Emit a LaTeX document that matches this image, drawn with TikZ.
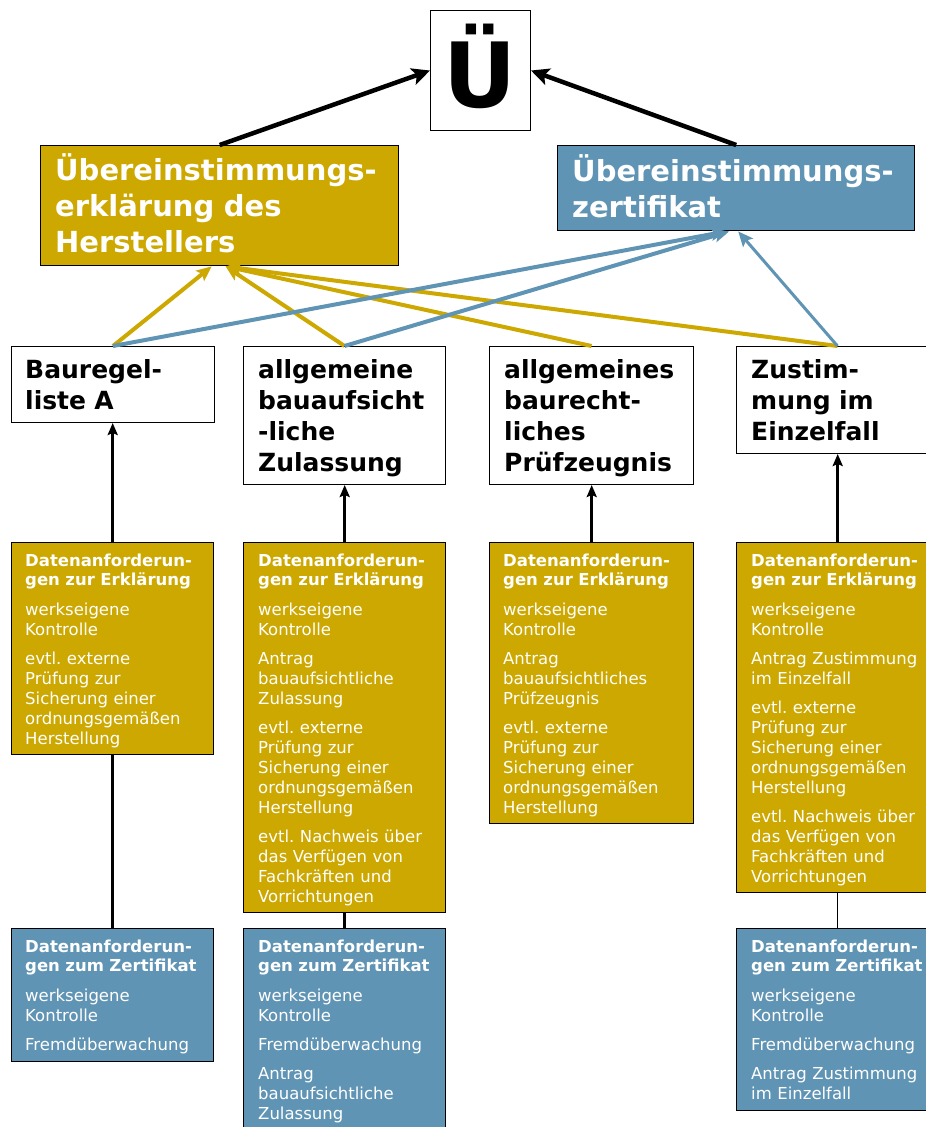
\documentclass[tikz,border=0pt]{standalone}
\usepackage{fontspec}
\setmainfont{DejaVu Sans}
\usetikzlibrary{arrows.meta}
\definecolor{gold}{RGB}{204,168,0}
\definecolor{steel}{RGB}{96,148,180}
\newcommand{\itemgap}{\\[9pt]}
\newcommand{\titlegap}{\\[10pt]}
\frenchspacing
\begin{document}
\begin{tikzpicture}[x=1pt,y=-1pt,
  frame/.style={draw=black, line width=1pt, inner sep=0pt, anchor=north west},
  plainbox/.style={frame, fill=white},
  goldbox/.style={frame, fill=gold, line width=1.4pt},
  bluebox/.style={frame, fill=steel, line width=1.4pt},
  headtext/.style={anchor=base west, inner sep=0pt, align=left, text width=340pt,
    text=white, font=\bfseries\fontsize{29}{36}\selectfont},
  labeltext/.style={anchor=base west, inner sep=0pt, align=left, text width=190pt,
    text=black, font=\bfseries\fontsize{25}{31}\selectfont},
  datatext/.style={anchor=base west, inner sep=0pt, align=left, text width=200pt,
    text=white, font=\fontsize{16.5}{20}\selectfont},
  bigarrow/.style={draw=black, line width=4.5pt, -{Stealth[length=18pt,width=17pt,inset=4pt]}},
  goldarrow/.style={draw=gold, line width=4pt, -{Stealth[length=15pt,width=13pt,inset=3pt]}},
  bluearrow/.style={draw=steel, line width=4pt, -{Stealth[length=15pt,width=13pt,inset=3pt]}},
  uparrow/.style={draw=black, line width=3pt, -{Stealth[length=12pt,width=10pt,inset=2pt]}},
  link/.style={draw=black, line width=#1}
]
\useasboundingbox (0,0) rectangle (926,1127);
\fill[white] (0,0) rectangle (926,1127);

% top symbol
\node[plainbox, minimum width=100pt, minimum height=120pt] (ue) at (430,10) {};
\node[anchor=base, inner sep=0pt, font=\bfseries\fontsize{90}{90}\selectfont] (uesym) at (480,107) {Ü};

% the two kinds of conformity proof
\node[goldbox, minimum width=358pt, minimum height=120pt] (decl) at (40,145) {};
\node[headtext] (declt) at (55,180) {Übereinstimmungs-\\erklärung des\\Herstellers};
\node[bluebox, minimum width=357pt, minimum height=85pt] (cert) at (557,145) {};
\node[headtext] (certt) at (572,181) {Übereinstimmungs-\\zertifikat};

\draw[bigarrow] (decl.north) -- (ue.west);
\draw[bigarrow] (cert.north) -- (ue.east);

% technical rules
\node[plainbox, minimum width=203pt, minimum height=76pt] (w1) at (11,346) {};
\node[labeltext] (w1t) at (25,378) {Bauregel-\\liste A};
\node[plainbox, minimum width=202pt, minimum height=138pt] (w2) at (243,346) {};
\node[labeltext] (w2t) at (258,378) {allgemeine\\bauaufsicht\\-liche\\Zulassung};
\node[plainbox, minimum width=204pt, minimum height=138pt] (w3) at (489,346) {};
\node[labeltext] (w3t) at (504,378) {allgemeines\\baurecht-\\liches\\Prüfzeugnis};
\node[plainbox, minimum width=202pt, minimum height=107pt] (w4) at (736,346) {};
\node[labeltext] (w4t) at (751,378) {Zustim-\\mung im\\Einzelfall};

% links to the declaration
\draw[goldarrow] (w1.north) -- ([xshift=-8pt]decl.south);
\draw[goldarrow] (w2.north) -- ([xshift=6pt]decl.south);
\draw[goldarrow] (w3.north) -- ([xshift=6pt]decl.south);
\draw[goldarrow] (w4.north) -- ([xshift=6pt]decl.south);

% links to the certificate
\draw[bluearrow] (w1.north) -- ([xshift=-10pt]cert.south);
\draw[bluearrow] (w2.north) -- ([xshift=-7pt]cert.south);
\draw[bluearrow, line width=3pt] (w4.north) -- ([xshift=2pt]cert.south);

% data requirements for the declaration
\node[goldbox, minimum width=202pt, minimum height=212pt] (g1) at (11,542) {};
\node[datatext] (g1t) at (25,566) {{\bfseries Datenanforderun-}\\[-1pt]{\bfseries gen zur Erklärung}\titlegap
werkseigene\\Kontrolle\itemgap
evtl. externe\\Prüfung zur\\Sicherung einer\\ordnungsgemäßen\\Herstellung};

\node[goldbox, minimum width=202pt, minimum height=370pt] (g2) at (243,542) {};
\node[datatext] (g2t) at (258,566) {{\bfseries Datenanforderun-}\\[-1pt]{\bfseries gen zur Erklärung}\titlegap
werkseigene\\Kontrolle\itemgap
Antrag\\bauaufsichtliche\\Zulassung\itemgap
evtl. externe\\Prüfung zur\\Sicherung einer\\ordnungsgemäßen\\Herstellung\itemgap
evtl. Nachweis über\\das Verfügen von\\Fachkräften und\\Vorrichtungen};

\node[goldbox, minimum width=204pt, minimum height=281pt] (g3) at (489,542) {};
\node[datatext] (g3t) at (503,566) {{\bfseries Datenanforderun-}\\[-1pt]{\bfseries gen zur Erklärung}\titlegap
werkseigene\\Kontrolle\itemgap
Antrag\\bauaufsichtliches\\Prüfzeugnis\itemgap
evtl. externe\\Prüfung zur\\Sicherung einer\\ordnungsgemäßen\\Herstellung};

\node[goldbox, minimum width=202pt, minimum height=350pt] (g4) at (736,542) {};
\node[datatext] (g4t) at (751,566) {{\bfseries Datenanforderun-}\\[-1pt]{\bfseries gen zur Erklärung}\titlegap
werkseigene\\Kontrolle\itemgap
Antrag Zustimmung\\im Einzelfall\itemgap
evtl. externe\\Prüfung zur\\Sicherung einer\\ordnungsgemäßen\\Herstellung\itemgap
evtl. Nachweis über\\das Verfügen von\\Fachkräften und\\Vorrichtungen};

\draw[uparrow] (g1.north) -- (g1.north |- w1.south);
\draw[uparrow] (g2.north) -- (g2.north |- w2.south);
\draw[uparrow] (g3.north) -- (g3.north |- w3.south);
\draw[uparrow] (g4.north) -- (g4.north |- w4.south);

% data requirements for the certificate
\node[bluebox, minimum width=202pt, minimum height=133pt] (b1) at (11,928) {};
\node[datatext] (b1t) at (25,952) {{\bfseries Datenanforderun-}\\[-1pt]{\bfseries gen zum Zertifikat}\titlegap
werkseigene\\Kontrolle\itemgap
Fremdüberwachung};

\node[bluebox, minimum width=202pt, minimum height=220pt] (b2) at (243,928) {};
\node[datatext] (b2t) at (258,952) {{\bfseries Datenanforderun-}\\[-1pt]{\bfseries gen zum Zertifikat}\titlegap
werkseigene\\Kontrolle\itemgap
Fremdüberwachung\itemgap
Antrag\\bauaufsichtliche\\Zulassung};

\node[bluebox, minimum width=202pt, minimum height=182pt] (b4) at (736,928) {};
\node[datatext] (b4t) at (751,952) {{\bfseries Datenanforderun-}\\[-1pt]{\bfseries gen zum Zertifikat}\titlegap
werkseigene\\Kontrolle\itemgap
Fremdüberwachung\itemgap
Antrag Zustimmung\\im Einzelfall};

\draw[link=3pt] (g1.south) -- (b1.north);
\draw[link=3pt] (g2.south) -- (b2.north);
\draw[link=1pt] (g4.south) -- (b4.north);
\end{tikzpicture}
\end{document}
